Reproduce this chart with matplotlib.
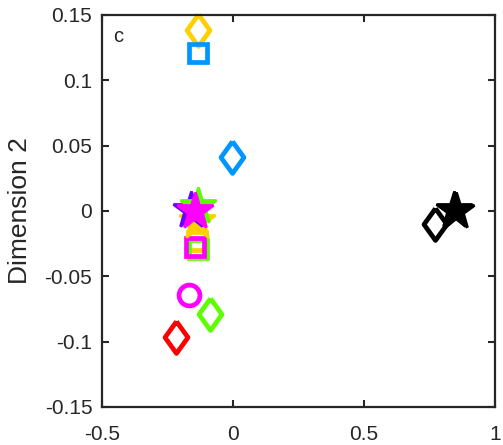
import matplotlib.pyplot as plt

plt.rcParams['font.family'] = ['Liberation Sans', 'DejaVu Sans']

# (x, y) coordinates of each item, grouped by marker shape
star_x = [-0.137, -0.162, -0.133, -0.145, 0.845, 0.852]
star_y = [-0.008, 0.001, 0.004, 0.000, 0.001, 0.000]
star_c = ['#FFD000', '#6A00FF', '#5CFF00', '#FF00FF', 'black', 'black']

square_x = [-0.134, -0.137, -0.134, -0.145]
square_y = [0.121, -0.023, -0.029, -0.0275]
square_c = ['#0096FF', '#FFD000', '#5CFF00', '#FF00FF']

diamond_x = [-0.134, -0.004, 0.771, -0.088, -0.218]
diamond_y = [0.1385, 0.041, -0.010, -0.079, -0.0965]
diamond_c = ['#FFD000', '#0096FF', 'black', '#5CFF00', '#FF0000']

circle_x = [-0.168]
circle_y = [-0.064]
circle_c = ['#FF00FF']

x_ticks = [-0.5, 0, 0.5, 1]
y_ticks = [-0.15, -0.1, -0.05, 0, 0.05, 0.1, 0.15]

diamond = [(0, 1), (0.72, 0), (0, -1), (-0.72, 0), (0, 1)]
lw = 3.4

fig = plt.figure(figsize=(5.03, 4.45), dpi=100)
ax = fig.add_axes([0.2028, 0.0854, 0.7813, 0.8809])

for x, y, c in zip(diamond_x, diamond_y, diamond_c):
    ax.plot(x, y, marker=diamond, ms=23, mew=lw, mfc='none', mec=c,
            ls='none', clip_on=False)
for x, y, c in zip(square_x, square_y, square_c):
    ax.plot(x, y, marker='s', ms=12.5, mew=lw, mfc='none', mec=c, ls='none')
for x, y, c in zip(circle_x, circle_y, circle_c):
    ax.plot(x, y, marker='o', ms=15, mew=lw, mfc='none', mec=c, ls='none')
for x, y, c in zip(star_x, star_y, star_c):
    ax.plot(x, y, marker='*', ms=28, mew=2.0, mfc=c, mec=c, ls='none')

ax.set_xlim(-0.5, 1)
ax.set_ylim(-0.15, 0.15)
ax.set_xticks(x_ticks)
ax.set_xticklabels(['-0.5', '0', '0.5', '1'])
ax.set_yticks(y_ticks)
ax.set_yticklabels(['-0.15', '-0.1', '-0.05', '0', '0.05', '0.1', '0.15'])
ax.tick_params(direction='in', length=5, width=1.5, labelsize=15,
               top=True, right=True, colors='#262626', labelcolor='#262626')
ax.tick_params(axis='x', pad=13)
ax.tick_params(axis='y', pad=7)
for s in ax.spines.values():
    s.set_linewidth(1.6)
    s.set_color('#262626')
ax.set_ylabel('Dimension 2', fontsize=19, color='#262626', labelpad=9)
ax.text(0.028, 0.931, 'c', transform=ax.transAxes, fontsize=14.5,
        va='baseline', ha='left', color='#262626')

fig.savefig('out.png', dpi=100)
